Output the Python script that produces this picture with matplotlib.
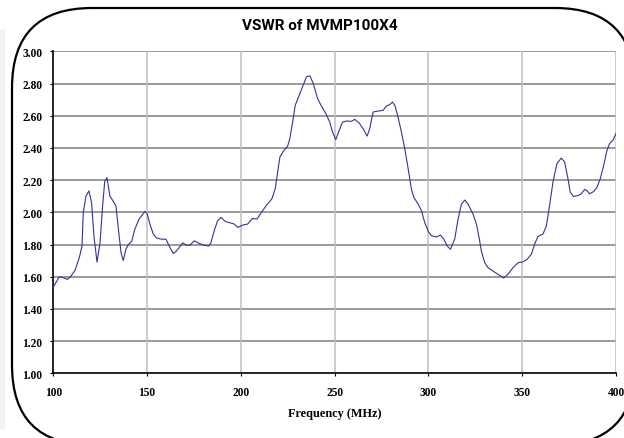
import matplotlib
matplotlib.use("Agg")
import matplotlib.pyplot as plt
from matplotlib.patches import FancyBboxPatch, Rectangle

freq_mhz = [100, 103.2, 105.3, 107.5, 109.2, 111.6, 113.9, 115.3, 116, 117.4, 119, 120.4,
            121.7, 123.3, 124.9, 126.3, 127.4, 128.6, 130.2, 132, 133.4, 134.7, 136.1, 137.3,
            138.7, 140, 141.8, 143.5, 145.8, 148.9, 150.1, 151.5, 153.3, 155.1, 157.7, 160.1,
            161.8, 164, 165.7, 169, 171.1, 172.8, 175.2, 177.8, 180.5, 182.8, 184, 185.8,
            187.6, 189.4, 191.7, 194.7, 196.5, 198.3, 200.9, 203.6, 206.2, 208.6, 210.7,
            213.4, 216.5, 218.3, 219.6, 220.8, 222.6, 224.9, 226.1, 227.6, 229, 231.1, 233.2,
            235, 236.8, 238.6, 240.9, 242.7, 245.3, 247.4, 248.8, 250.6, 252.4, 254.2, 256.3,
            259, 260.7, 263, 265.2, 267.3, 268.7, 270.5, 273.2, 275.8, 277.6, 279.4, 280.8,
            282.1, 283.8, 285.6, 287.4, 289.2, 290.9, 292.2, 294.5, 296.3, 298, 300, 301.6,
            304.3, 306.4, 308.2, 310, 311.7, 314, 315.8, 317.6, 319.4, 321.1, 323.8, 325.6,
            327, 328.2, 330, 331.8, 334.4, 337.1, 340.1, 342.4, 345.1, 347.8, 350.4, 352.6,
            354.9, 356.6, 358.4, 361.1, 362.9, 364.6, 366.4, 368.5, 370.8, 372.6, 374.4,
            375.6, 377.4, 379.7, 381.5, 383.3, 384.5, 385.9, 388.1, 389.9, 391.6, 393.4,
            395.2, 396.6, 398.4, 400]
vswr = [1.535, 1.60, 1.594, 1.583, 1.60, 1.64, 1.72, 1.79, 2.00, 2.10, 2.133, 2.06,
        1.85, 1.69, 1.81, 2.04, 2.19, 2.215, 2.10, 2.067, 2.04, 1.896, 1.75, 1.70,
        1.77, 1.80, 1.82, 1.896, 1.96, 2.006, 1.99, 1.927, 1.865, 1.84, 1.833, 1.833,
        1.79, 1.744, 1.76, 1.81, 1.796, 1.796, 1.823, 1.806, 1.796, 1.79, 1.81, 1.885,
        1.948, 1.968, 1.943, 1.933, 1.927, 1.906, 1.92, 1.927, 1.962, 1.958, 1.995,
        2.04, 2.083, 2.145, 2.25, 2.343, 2.378, 2.41, 2.457, 2.56, 2.665, 2.727, 2.79,
        2.842, 2.848, 2.80, 2.706, 2.665, 2.613, 2.56, 2.50, 2.452, 2.508, 2.56, 2.567,
        2.565, 2.577, 2.556, 2.519, 2.473, 2.519, 2.623, 2.629, 2.633, 2.66, 2.669, 2.685,
        2.664, 2.592, 2.498, 2.394, 2.27, 2.145, 2.093, 2.051, 2.01, 1.937, 1.879, 1.854,
        1.847, 1.858, 1.833, 1.791, 1.77, 1.833, 1.958, 2.051, 2.076, 2.051, 1.989, 1.926,
        1.843, 1.76, 1.687, 1.656, 1.635, 1.615, 1.592, 1.615, 1.656, 1.687, 1.692, 1.708,
        1.74, 1.802, 1.85, 1.865, 1.917, 2.042, 2.188, 2.302, 2.337, 2.313, 2.208,
        2.125, 2.098, 2.104, 2.115, 2.142, 2.135, 2.115, 2.129, 2.156, 2.208, 2.29,
        2.385, 2.427, 2.448, 2.49]

x_ticks = [100, 150, 200, 250, 300, 350, 400]
y_ticks = [1.00, 1.20, 1.40, 1.60, 1.80, 2.00, 2.20, 2.40, 2.60, 2.80, 3.00]
title = "VSWR of MVMP100X4"
x_label = "Frequency (MHz)"

W, H = 624, 439
fig = plt.figure(figsize=(W / 100, H / 100), dpi=100)

# background frame layer (pixel coordinates)
bg = fig.add_axes([0, 0, 1, 1])
bg.set_xlim(0, W)
bg.set_ylim(H, 0)
bg.axis("off")
bg.add_patch(Rectangle((0, 30), 5, 400, facecolor="#f3f3f3", edgecolor="none"))
frame = FancyBboxPatch((12, 9), 623, 437, boxstyle="round,pad=0,rounding_size=80",
                       facecolor="white", edgecolor="black", linewidth=1.6, clip_on=False)
bg.add_patch(frame)

serif = ["Liberation Serif", "DejaVu Serif"]

ax = fig.add_axes([53.3 / W, 1 - 374.3 / H, (616 - 53.3) / W, (374.3 - 52.3) / H])
ax.set_facecolor("white")
ax.plot(freq_mhz, vswr, color="#333399", linewidth=0.8, zorder=3)
ax.set_xlim(100, 400)
ax.set_ylim(1.0, 3.0)
ax.set_xticks(x_ticks)
ax.set_yticks(y_ticks)
ax.set_xticklabels([str(t) for t in x_ticks])
ax.set_yticklabels([f"{t:.2f}" for t in y_ticks])
for lab in ax.get_xticklabels() + ax.get_yticklabels():
    lab.set_family(serif)
    lab.set_fontweight("bold")
    lab.set_fontsize(8.3)
ax.tick_params(axis="both", direction="out", length=2.5, width=0.8, color="black")
ax.tick_params(axis="x", pad=7)
ax.tick_params(axis="y", pad=5.5)

for yv in y_ticks[1:]:
    ax.axhline(yv, color="#7f7f7f", linewidth=1.1, zorder=1)
for xv in x_ticks[1:]:
    ax.axvline(xv, color="#c0c0c0", linewidth=1.1, zorder=1)

ax.spines["left"].set_color("black")
ax.spines["bottom"].set_color("black")
ax.spines["left"].set_linewidth(1.2)
ax.spines["bottom"].set_linewidth(1.2)
ax.spines["top"].set_visible(False)
ax.spines["right"].set_visible(False)

ax.set_xlabel(x_label, family=serif, fontweight="bold", fontsize=8.8, labelpad=6)

fig.text(320 / W, 1 - 26.5 / H, title, ha="center", va="center",
         family=["Roboto", "DejaVu Sans"], fontweight="bold", fontsize=11.0)

fig.savefig("out.png", dpi=100)
